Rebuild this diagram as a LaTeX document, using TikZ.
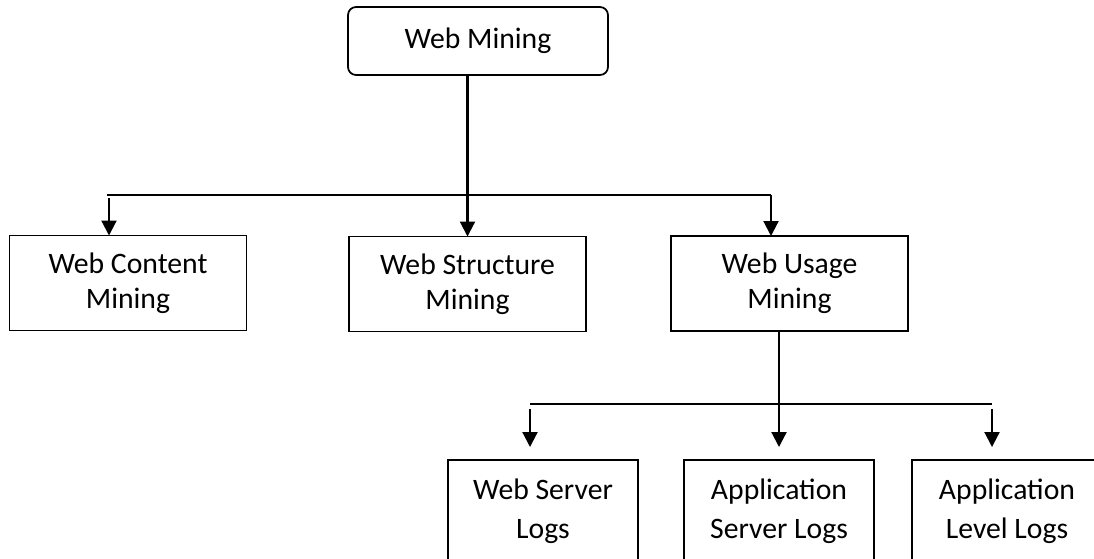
\documentclass[tikz,border=0pt]{standalone}
\usepackage{fontspec}
\setmainfont{Carlito}
\usetikzlibrary{positioning, arrows.meta}

\begin{document}
\begin{tikzpicture}[x=0.02cm, y=-0.02cm,
                box/.style={draw=black, line width=1pt, align=center,
                            inner sep=0pt, outer sep=0pt,
                            font=\fontsize{16.9}{19.9}\selectfont},
                minebox/.style={box, minimum width=4.74cm, minimum height=1.9cm},
                logbox/.style={box, minimum width=3.8cm, minimum height=2.04cm,
                               font=\fontsize{16.9}{22.2}\selectfont},
                link/.style={line width=1.2pt},
                bus/.style={line width=1.6pt},
                arr/.style={link, -{Triangle[width=0.3cm, length=0.3cm]}}
            ]

            \useasboundingbox (0,0) rectangle (1094,558);
            \clip (0,0) rectangle (1094,558);

            % root
            \node[box, rounded corners=0.16cm,
                  minimum width=5.2cm, minimum height=1.36cm] (wm) at (478, 41)
                {Web Mining};

            % three kinds of mining
            \node[minebox] (wc) at (128, 283) {Web Content\\Mining};
            \node[minebox] (ws) at (467.5, 284) {Web Structure\\Mining};
            \node[minebox] (wu) at (789.5, 283.5) {Web Usage\\Mining};

            % log sources
            \node[logbox] (wsl) at (543, 511) {Web Server\\Logs};
            \node[logbox] (asl) at (779, 511) {Application\\Server Logs};
            \node[logbox] (all) at (1007, 511) {Application\\Level Logs};

            % upper branches
            \coordinate (busL) at (107, 195);
            \coordinate (busR) at (771, 195);
            \coordinate (wcIn) at (109, 198);
            \draw[bus] (busL) -- (busR);
            \draw[arr] (busR) -- (busR |- wu.north);
            \draw[arr] (wcIn) -- (wcIn |- wc.north);
            \draw[arr] (ws.north |- wm.south) -- (ws.north);

            % lower branches
            \coordinate (logL) at (530, 404);
            \coordinate (logR) at (992, 404);
            \coordinate (wslIn) at (530, 409);
            \coordinate (allIn) at (992, 409);
            \draw[bus] (logL) -- (logR);
            \draw[arr, shorten >=0.26cm] (asl.north |- wu.south) -- (asl.north);
            \draw[arr, shorten >=0.26cm] (wslIn) -- (wslIn |- wsl.north);
            \draw[arr, shorten >=0.26cm] (allIn) -- (allIn |- all.north);

            \end{tikzpicture}
\end{document}
